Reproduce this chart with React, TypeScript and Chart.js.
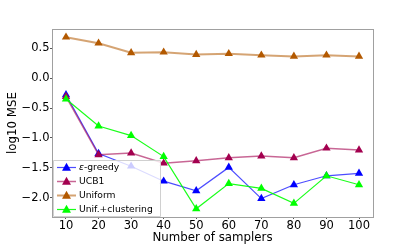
import React, { useEffect, useRef } from "react";
import { Chart, registerables } from "chart.js";

Chart.register(...registerables);

const samplers = [10, 20, 30, 40, 50, 60, 70, 80, 90, 100];
const epsGreedy = [-0.28, -1.26, -1.47, -1.72, -1.88, -1.49, -2.01, -1.78, -1.63, -1.59];
const ucb1 = [-0.31, -1.28, -1.25, -1.42, -1.38, -1.33, -1.3, -1.33, -1.17, -1.2];
const uniform = [0.68, 0.58, 0.42, 0.43, 0.39, 0.405, 0.38, 0.36, 0.38, 0.36];
const unifClustering = [-0.35, -0.8, -0.96, -1.31, -2.18, -1.76, -1.84, -2.09, -1.63, -1.78];
const yTicks = [-2.0, -1.5, -1.0, -0.5, 0.0, 0.5];
const xTicks = [10, 20, 30, 40, 50, 60, 70, 80, 90, 100];
const seriesNames = ["ε-greedy", "UCB1", "Uniform", "Unif.+clustering"];
const xTitle = "Number of samplers";
const yTitle = "log10 MSE";

const markerColors = ["#0000ff", "#a3004f", "#b35900", "#00ff00"];
const lineColors = [
  "rgba(0,0,255,0.7)",
  "rgba(163,0,79,0.6)",
  "rgba(179,89,0,0.55)",
  "rgba(0,255,0,0.9)",
];
const lineWidths = [1.2, 1.5, 2, 1.2];
const FONT = "'DejaVu Sans', sans-serif";

function fmtY(v: number) {
  const s = Math.abs(v).toFixed(1);
  return v < 0 ? "\u2212" + s : s;
}

function tri(ctx: CanvasRenderingContext2D, x: number, y: number, r: number, color: string) {
  ctx.save();
  ctx.fillStyle = color;
  ctx.beginPath();
  ctx.moveTo(x, y - r);
  ctx.lineTo(x + r * 0.95, y + r * 0.7);
  ctx.lineTo(x - r * 0.95, y + r * 0.7);
  ctx.closePath();
  ctx.fill();
  ctx.restore();
}

const framePlugin = {
  id: "frameAndLegend",
  afterDraw(chart: any) {
    const ctx: CanvasRenderingContext2D = chart.ctx;
    const a = chart.chartArea;
    ctx.save();
    // frame
    ctx.strokeStyle = "#a0a0a0";
    ctx.lineWidth = 1;
    ctx.strokeRect(Math.round(a.left) + 0.5, Math.round(a.top) + 0.5, Math.round(a.right - a.left), Math.round(a.bottom - a.top));
    // axis titles
    ctx.fillStyle = "#000";
    ctx.font = `11.8px ${FONT}`;
    ctx.textAlign = "center";
    ctx.textBaseline = "alphabetic";
    ctx.fillText(xTitle, (a.left + a.right) / 2, 240.5);
    ctx.save();
    ctx.translate(13, (a.top + a.bottom) / 2);
    ctx.rotate(-Math.PI / 2);
    ctx.textBaseline = "middle";
    ctx.fillText(yTitle, 0, 0);
    ctx.restore();
    // legend
    const lx = a.left + 1, ly = 160, lw = 107, lh = 56;
    ctx.fillStyle = "rgba(255,255,255,0.8)";
    ctx.strokeStyle = "#d0d0d0";
    ctx.beginPath();
    ctx.rect(lx + 0.5, ly + 0.5, lw, lh);
    ctx.fill();
    ctx.stroke();
    const lf = 9.2;
    ctx.font = `${lf}px ${FONT}`;
    ctx.textAlign = "left";
    ctx.textBaseline = "middle";
    seriesNames.forEach((name, i) => {
      const y = ly + 7.5 + i * 14;
      ctx.strokeStyle = lineColors[i];
      ctx.lineWidth = lineWidths[i];
      ctx.beginPath();
      ctx.moveTo(lx + 4, y);
      ctx.lineTo(lx + 23, y);
      ctx.stroke();
      tri(ctx, lx + 13.5, y, 4.7, markerColors[i]);
      ctx.fillStyle = "#000";
      if (name.startsWith("ε")) {
        ctx.font = `italic ${lf}px ${FONT}`;
        ctx.fillText("ε", lx + 26, y);
        const w = ctx.measureText("ε").width;
        ctx.font = `${lf}px ${FONT}`;
        ctx.fillText(name.slice(1), lx + 26 + w, y);
      } else {
        ctx.fillText(name, lx + 26, y);
      }
    });
    ctx.restore();
  },
};

export default function App() {
  const ref = useRef<HTMLCanvasElement | null>(null);
  useEffect(() => {
    if (!ref.current) return;
    const series = [epsGreedy, ucb1, uniform, unifClustering];
    const chart = new Chart(ref.current, {
      type: "line",
      data: {
        datasets: series.map((vals, i) => ({
          label: seriesNames[i],
          data: samplers.map((x, j) => ({ x, y: vals[j] })),
          borderColor: lineColors[i],
          borderWidth: lineWidths[i],
          pointStyle: "triangle",
          pointRadius: 4.8,
          pointBackgroundColor: markerColors[i],
          pointBorderColor: markerColors[i],
          pointBorderWidth: 0,
          tension: 0,
          order: 4 - i,
        })),
      },
      options: {
        animation: false,
        responsive: false,
        events: [],
        layout: { padding: { left: 0, right: 42, top: 29, bottom: 0 } },
        plugins: { legend: { display: false }, tooltip: { enabled: false } },
        scales: {
          x: {
            type: "linear",
            min: 5.7,
            max: 104.3,
            afterBuildTicks: (s: any) => {
              s.ticks = xTicks.map((v) => ({ value: v }));
            },
            afterFit: (s: any) => {
              s.height = 27;
            },
            grid: { drawOnChartArea: false, drawTicks: true, tickLength: 2, color: "#555" },
            border: { color: "#a0a0a0" },
            ticks: {
              padding: 0,
              color: "#000",
              font: { family: FONT, size: 11.5 },
              maxRotation: 0,
              callback: (v: any) => String(v),
            },
          },
          y: {
            type: "linear",
            min: -2.317,
            max: 0.817,
            afterBuildTicks: (s: any) => {
              s.ticks = yTicks.map((v) => ({ value: v }));
            },
            afterFit: (s: any) => {
              s.width = 52;
            },
            grid: { drawOnChartArea: false, drawTicks: true, tickLength: 2, color: "#555" },
            border: { color: "#a0a0a0" },
            ticks: {
              padding: 0.5,
              color: "#000",
              font: { family: FONT, size: 11.5 },
              callback: (v: any) => fmtY(Number(v)),
            },
          },
        },
      },
      plugins: [framePlugin],
    } as any);
    return () => chart.destroy();
  }, []);
  return (
    <div style={{ position: "fixed", left: 0, top: 0, width: 415, height: 244, background: "#fff" }}>
      <canvas ref={ref} width={415} height={244} style={{ display: "block" }} />
    </div>
  );
}
